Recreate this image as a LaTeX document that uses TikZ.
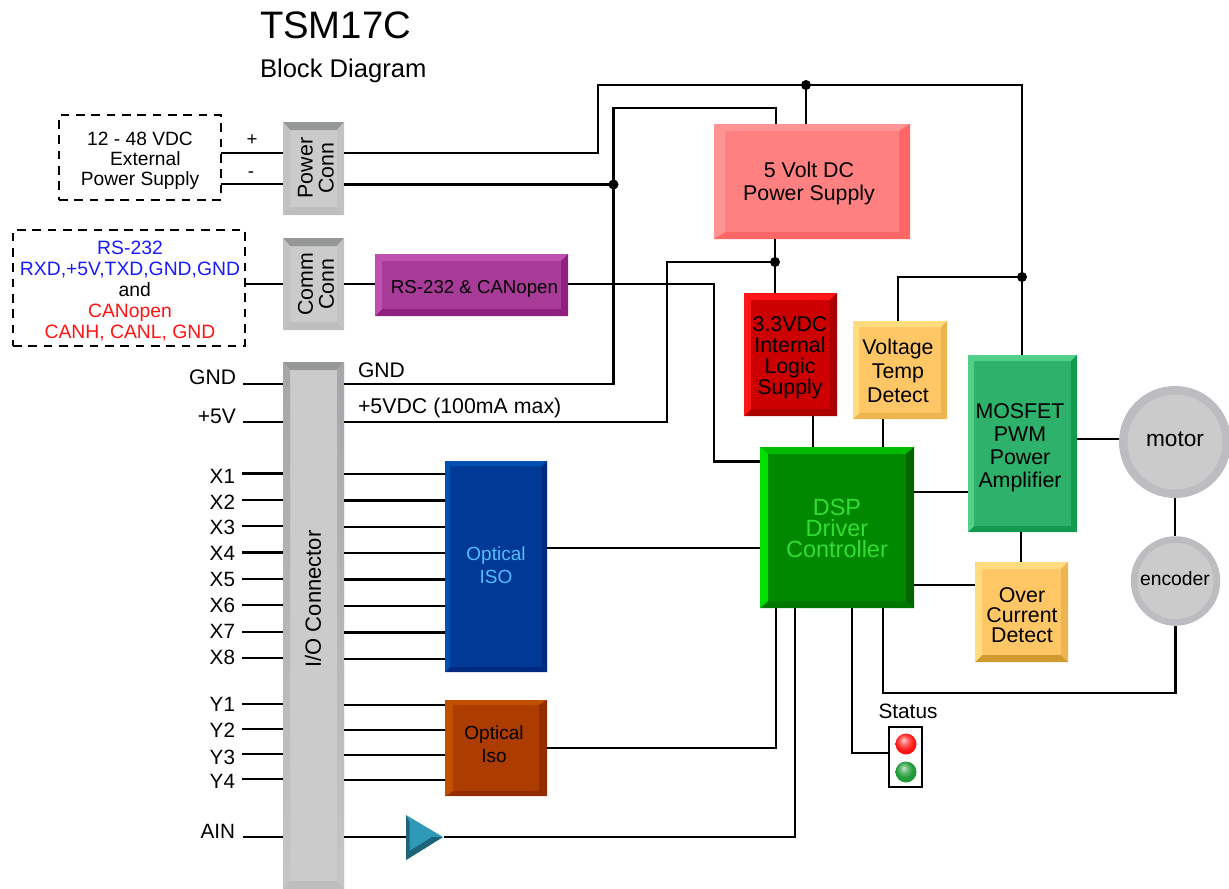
\documentclass[tikz,border=0pt]{standalone}
\usepackage{fontspec}
\setmainfont{Liberation Sans}
\newcommand{\fsz}[2]{\fontsize{#1}{#2}\selectfont}
\newcommand{\pal}[6]{%
  \definecolor{#1M}{HTML}{#2}\definecolor{#1T}{HTML}{#3}\definecolor{#1L}{HTML}{#4}%
  \definecolor{#1R}{HTML}{#5}\definecolor{#1B}{HTML}{#6}}
\pal{psu}{FF8080}{FF9494}{FF9494}{FF6666}{FF6666}
\pal{low}{CC0000}{FF1616}{FF1616}{AA0000}{AA0000}
\pal{det}{FFC666}{FFDC80}{FFDC80}{EEB450}{EEB450}
\pal{ovr}{FFC666}{FFDC80}{FFDC80}{EEB450}{D09A30}
\pal{mos}{2EB16A}{50D088}{50D088}{149A50}{149A50}
\pal{dsp}{008800}{00BB00}{00E000}{006600}{007700}
\pal{rsb}{A83A98}{C050B0}{C050B0}{8F2080}{8F2080}
\pal{iso}{003A96}{0050B0}{0050B0}{002A80}{002A80}
\pal{iss}{AC3C00}{C05000}{C05000}{942C00}{942C00}
\pal{con}{CBCBCB}{969898}{C2C2C4}{C2C2C4}{BEBEBE}
\definecolor{txtblue}{HTML}{1A1AFF}
\definecolor{txtred}{HTML}{FF1414}
\definecolor{dsptxt}{HTML}{33DD33}
\definecolor{isotxt}{HTML}{55BBFF}
\definecolor{ringgray}{HTML}{BDBDC1}
\definecolor{ampmain}{HTML}{2F9AB8}
\definecolor{ampdark}{HTML}{1E6478}
\definecolor{sidetop}{HTML}{A6A6AA}
\definecolor{sidebot}{HTML}{C6C6C8}
\definecolor{lampredc}{HTML}{FF1414}
\definecolor{lampgreenc}{HTML}{229A38}
\pgfdeclareradialshading{lampred}{\pgfpoint{-6bp}{10bp}}{color(0bp)=(white!80!lampredc);color(11bp)=(lampredc!70!white);color(22bp)=(lampredc);color(50bp)=(lampredc)}
\pgfdeclareradialshading{lampgreen}{\pgfpoint{-6bp}{10bp}}{color(0bp)=(white!75!lampgreenc);color(10bp)=(lampgreenc!70!white);color(20bp)=(lampgreenc);color(50bp)=(lampgreenc)}
\newcommand{\bbox}[8]{%
  \fill[#2M] (#3,#4) rectangle (#5,#6);
  \fill[#2T] (#3,#4) -- (#5,#4) -- ({#5-#7},{#4+#8}) -- ({#3+#7},{#4+#8}) -- cycle;
  \fill[#2B] (#3,#6) -- (#5,#6) -- ({#5-#7},{#6-#8}) -- ({#3+#7},{#6-#8}) -- cycle;
  \fill[#2L] (#3,#4) -- ({#3+#7},{#4+#8}) -- ({#3+#7},{#6-#8}) -- (#3,#6) -- cycle;
  \fill[#2R] (#5,#4) -- ({#5-#7},{#4+#8}) -- ({#5-#7},{#6-#8}) -- (#5,#6) -- cycle;
  \node[boxn,minimum width={(#5-#3)*0.75pt},minimum height={(#6-#4)*0.75pt}] (#1) at ({(#3+#5)/2},{(#4+#6)/2}) {};
}
\tikzset{
  boxn/.style={inner sep=0pt,outer sep=0pt,draw=none},
  lab/.style={inner sep=0pt,outer sep=0pt,align=center},
  wire/.style={draw=black,line width=1.6pt,line join=miter},
  dashbox/.style={draw=black,line width=1.6pt,dash pattern=on 6.5pt off 5pt,fill=none,inner sep=0pt,outer sep=0pt},
  jdot/.style={circle,fill=black,inner sep=0pt,minimum size=7.5pt},
  pinlab/.style={lab,anchor=east,font=\fsz{15.5}{17}},
}
\begin{document}
\begin{tikzpicture}[x=0.75pt,y=-0.75pt]
\useasboundingbox (0,0) rectangle (1229,889);

% title
\node[lab,anchor=west,font=\fsz{28.7}{30}] (title) at (260,25) {TSM17C};
\node[lab,anchor=west,font=\fsz{19.2}{21}] (subtitle) at (260,71) {Block Diagram};

% blocks
\bbox{pc}{con}{283}{122}{344}{215}{7}{8}
\bbox{cc}{con}{283}{238}{344}{330}{7}{8}
\bbox{io}{con}{283}{362}{344}{889}{7}{8}
\shade[top color=sidetop,bottom color=sidebot] (283,362) -- (290,370) -- (290,881) -- (283,889) -- cycle;
\shade[top color=sidetop,bottom color=sidebot] (344,362) -- (337,370) -- (337,881) -- (344,889) -- cycle;
\bbox{rs}{rsb}{375}{254}{568}{316}{7}{7}
\bbox{psu}{psu}{714}{124}{910}{239}{11}{7}
\bbox{vlow}{low}{744}{293}{837}{416}{7}{7}
\bbox{vt}{det}{853}{321}{947}{419}{6}{6}
\bbox{mos}{mos}{968}{355}{1077}{532}{6}{6}
\bbox{dsp}{dsp}{760}{447}{914}{608}{8}{7}
\bbox{oc}{ovr}{975}{562}{1068}{662}{7}{7}
\bbox{isoa}{iso}{445}{461}{547}{672}{5}{5}
\bbox{isob}{iss}{445}{700}{547}{796}{8}{5}

% dashed sources
\node[dashbox,minimum width={162*0.75pt},minimum height={85*0.75pt}] (ext) at (140,157.5) {};
\node[dashbox,minimum width={232*0.75pt},minimum height={116*0.75pt}] (cm) at (129,288) {};

% motor, encoder
\node[circle,fill=ringgray,inner sep=0pt,minimum size={112*0.75pt}] (motor) at (1175,442) {};
\fill[conM] (motor.center) circle (47.5);
\node[circle,fill=ringgray,inner sep=0pt,minimum size={89.5*0.75pt}] (enc) at (1175.5,581) {};
\fill[conM] (enc.center) circle (38);

% amplifier
\node[boxn,minimum width={38*0.75pt},minimum height={45*0.75pt}] (amp) at (424.5,837) {};
\fill[ampmain] (406,815) -- (443,837) -- (406,860) -- cycle;
\fill[ampdark] (406,815) -- (409.5,822) -- (409.5,851) -- (406,860) -- cycle;
\fill[ampdark] (406,860) -- (409.5,851) -- (432,837) -- (443,837) -- cycle;

% status
\node[draw=black,line width=1.6pt,fill=white,inner sep=0pt,minimum width={33*0.75pt},minimum height={60*0.75pt}] (stat) at (905.5,757) {};
\shade[shading=lampred] (906,744) circle (10.5);
\shade[shading=lampgreen] (906,772) circle (10.5);

% junctions
\node[jdot] (d1) at (806,85) {};
\node[jdot] (d2) at (1022,277) {};
\node[jdot] (d3) at (613.5,184.5) {};
\node[jdot] (d4) at (775,262) {};

% connectors
\draw[wire] (ext.east |- 0,153) -- (pc.west |- 0,153);
\draw[wire] (ext.east |- 0,184) -- (pc.west |- 0,184);
\draw[wire] (cm.east |- 0,284) -- (cc.west |- 0,284);
\draw[wire] (cc.east |- 0,284) -- (rs.west |- 0,284);
\draw[wire] (pc.east |- 0,153) -- (598,153) -- (598,85) -- (d1.center);
\draw[wire] (d1.center) -- (1022,85) -- (d2.center) -- (d2.center |- mos.north);
\draw[wire] (d1.center) -- (d1.center |- psu.north);
\draw[wire] (d2.center) -- (898,277) -- (898,0 |- vt.north);
\draw[wire] (pc.east |- 0,184.5) -- (d3.center);
\draw[wire] (io.east |- 0,384) -- (613.5,384) -- (d3.center) -- (613.5,108) -- (776,108) -- (776,0 |- psu.north);
\draw[wire] (io.east |- 0,422) -- (667,422) -- (667,262) -- (d4.center);
\draw[wire] (d4.center |- psu.south) -- (d4.center) -- (d4.center |- vlow.north);
\draw[wire] (rs.east |- 0,284) -- (714,284) -- (714,461.5) -- (dsp.west |- 0,461.5);
\draw[wire] (813,0 |- vlow.south) -- (813,0 |- dsp.north);
\draw[wire] (883,0 |- vt.south) -- (883,0 |- dsp.north);
\draw[wire] (dsp.east |- 0,492) -- (mos.west |- 0,492);
\draw[wire] (dsp.east |- 0,585) -- (oc.west |- 0,585);
\draw[wire] (1021,0 |- mos.south) -- (1021,0 |- oc.north);
\draw[wire] (mos.east |- 0,439) -- (motor.west |- 0,439);
\draw[wire] (motor.south) -- (enc.north -| motor.south);
\draw[wire] (isoa.east |- 0,548) -- (dsp.west |- 0,548);
\draw[wire] (isob.east |- 0,748) -- (776,748) -- (776,0 |- dsp.south);
\draw[wire] (amp.east) -- (795,837) -- (795,0 |- dsp.south);
\draw[wire] (io.east |- 0,837) -- (amp.west);
\draw[wire] (852,0 |- dsp.south) -- (852,753) -- (stat.west |- 0,753);
\draw[wire] (883,0 |- dsp.south) -- (883,693) -- (1175.5,693) -- (enc.south);

% I/O pins
\foreach \n/\yl/\yr/\yt/\xt in {GND/384/384/377/236,+5V/422/422/416/236}{
  \coordinate (pin\n) at (243,\yl);
  \node[pinlab,font=\fsz{15.8}{17}] (lab\n) at (\xt,\yt) {\n};
  \draw[wire] (pin\n) -- (io.west |- pin\n);
}
\foreach \n/\yl/\yr/\yt in {X1/473.5/474/476.5,X2/500/500.5/502.5,X3/526/527/527.5,X4/552.5/553/553,X5/579/579.5/579,X6/605/606/605,X7/632/632.5/631,X8/658/659/657}{
  \coordinate (pin\n) at (242,\yl);
  \node[pinlab] (lab\n) at (235,\yt) {\n};
  \draw[wire] (pin\n) -- (io.west |- pin\n);
  \draw[wire] (io.east |- 0,\yr) -- (isoa.west |- 0,\yr);
}
\foreach \n/\yl/\yr/\yt in {Y1/704/705/704,Y2/729/730/730,Y3/754/755/757,Y4/779/780/781}{
  \coordinate (pin\n) at (242,\yl);
  \node[pinlab] (lab\n) at (235,\yt) {\n};
  \draw[wire] (pin\n) -- (io.west |- pin\n);
  \draw[wire] (io.east |- 0,\yr) -- (isob.west |- 0,\yr);
}
\coordinate (pinAIN) at (243,837);
\node[pinlab] (labAIN) at (235,831) {AIN};
\draw[wire] (pinAIN) -- (io.west |- pinAIN);

% texts
\node[lab,font=\fsz{14.4}{15}] (extT) at (140,161) {12 - 48 VDC\\\hspace*{8pt}External\\Power Supply};
\node[lab,font=\fsz{14.5}{15.75}] (cmT) at (130,291) {\textcolor{txtblue}{RS-232}\\\textcolor{txtblue}{RXD,+5V,TXD,GND,GND}\\\hspace*{7pt}and\\\textcolor{txtred}{CANopen}\\\textcolor{txtred}{CANH, CANL, GND}};
\node[lab,font=\fsz{14}{15}] (plus) at (252,140) {+};
\node[lab,font=\fsz{14}{15}] (minus) at (251,175) {-};
\node[lab,rotate=90,font=\fsz{16}{15.75}] (pcT) at (316,168) {Power\\Conn};
\node[lab,rotate=90,font=\fsz{16}{15.75}] (ccT) at (316,284) {Comm\\Conn};
\node[lab,rotate=90,font=\fsz{16.5}{17}] (ioT) at (313,599) {I/O Connector};
\node[lab,anchor=west,font=\fsz{15.8}{17}] (gndT) at (358,370) {GND};
\node[lab,anchor=west,font=\fsz{16}{17}] (vT) at (358,408) {+5VDC (100mA max)};
\node[lab,font=\fsz{14}{15}] (rsT) at (474.5,289) {RS-232 \& CANopen};
\node[lab,font=\fsz{16}{17.25}] (psuT) at (809,183) {5 Volt DC\\Power Supply};
\node[lab,font=\fsz{16}{15.75}] (vlowT) at (790,357.5) {3.3VDC\\Internal\\Logic\\Supply};
\node[lab,font=\fsz{16}{18}] (vtT) at (898,371) {Voltage\\Temp\\Detect};
\node[lab,font=\fsz{16}{17.25}] (mosT) at (1020,447.5) {MOSFET\\PWM\\Power\\Amplifier};
\node[lab,text=dsptxt,font=\fsz{17.6}{15.75}] (dspT) at (837,528.5) {DSP\\Driver\\Controller};
\node[lab,font=\fsz{16}{15}] (ocT) at (1022,615) {Over\\Current\\Detect};
\node[lab,text=isotxt,font=\fsz{14.25}{17.25}] (isoaT) at (496,565) {Optical\\ISO};
\node[lab,font=\fsz{14.25}{17.25}] (isobT) at (494,744) {Optical\\Iso};
\node[lab,font=\fsz{17}{18}] (motorT) at (1175,439) {motor};
\node[lab,font=\fsz{14.5}{16}] (encT) at (1175,579) {encoder};
\node[lab,font=\fsz{15.6}{17}] (statT) at (908,711) {Status};
\end{tikzpicture}
\end{document}
